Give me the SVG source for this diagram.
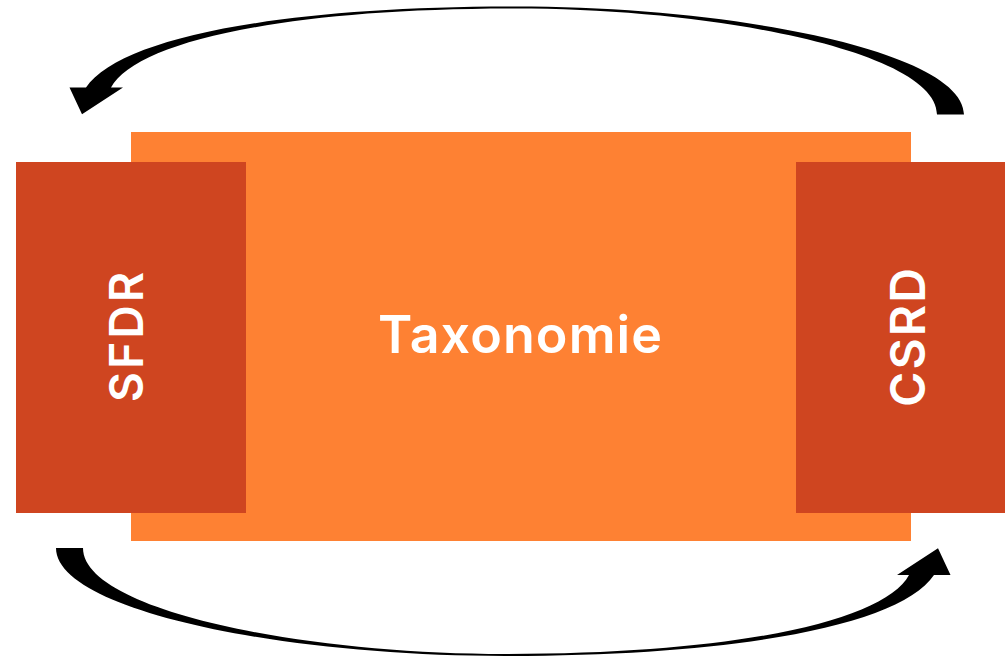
<svg xmlns="http://www.w3.org/2000/svg" width="1005" height="657" viewBox="0 0 1005 657">
<style>
.main{fill:#FE8133}
.side{fill:#CF4520}
.lbl{font-family:Inter,"DejaVu Sans",sans-serif;font-weight:600;fill:#FFFFFF;text-anchor:middle}
.arr{fill:#000000}
</style>
<defs>
<path id="curveArrow" d="M56,548 C56,610 280,656 505,656 C740,656 900,625 934,575 L950.5,575 L938,548.3 L897,575 L909,575 C885,620 740,654 505,654 C300,654 83,610 83,548 Z"/>
</defs>
<rect width="1005" height="657" fill="#FFFFFF"/>
<g id="taxonomie">
<rect class="main" x="131" y="132" width="780" height="409"/>
<text class="lbl" x="520" y="353" font-size="52" textLength="284" lengthAdjust="spacing">Taxonomie</text>
</g>
<g id="sfdr">
<rect class="side" x="16" y="162" width="230" height="351"/>
<text class="lbl" transform="translate(143,337) rotate(-90)" font-size="46" textLength="130" lengthAdjust="spacing">SFDR</text>
</g>
<g id="csrd">
<rect class="side" x="796" y="162" width="209" height="351"/>
<text class="lbl" transform="translate(925,337.5) rotate(-90)" font-size="48" textLength="139" lengthAdjust="spacing">CSRD</text>
</g>
<g id="connectors">
<use href="#curveArrow" class="arr"/>
<use href="#curveArrow" class="arr" transform="rotate(180 510 331.3)"/>
</g>
</svg>
